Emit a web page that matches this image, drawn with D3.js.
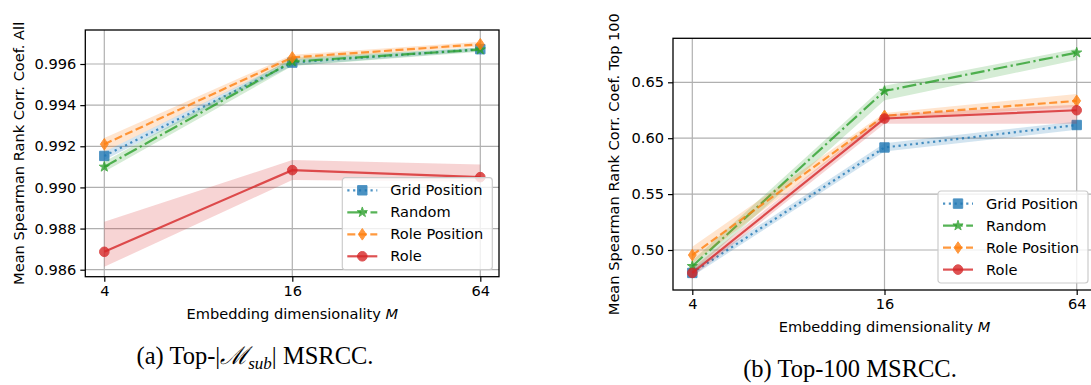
<!DOCTYPE html>
<html>
<head>
<meta charset="utf-8">
<script src="https://d3js.org/d3.v7.min.js"></script>
<style type="text/css">
  body { margin: 0; background: #fff; }
  svg text { font-family: "DejaVu Sans", sans-serif; fill: #000; }
  .caption { font-family: "Liberation Serif", "DejaVu Serif", serif; }
</style>
</head>
<body>
<svg id="fig" width="1091" height="385"></svg>
<script>

// embedding dimensionality M (x values, log2 axis)
const dims = [4, 16, 64];
const seriesNames = ['Grid Position', 'Random', 'Role Position', 'Role'];

// (a) Top-|M_sub| MSRCC : mean and shaded band (low / high)
const allGridMean = [0.99153, 0.99607, 0.99672];
const allGridLo   = [0.99133, 0.99592, 0.99663];
const allGridHi   = [0.99173, 0.99622, 0.99680];
const allRandomMean = [0.99100, 0.99612, 0.99670];
const allRandomLo   = [0.99076, 0.99590, 0.99660];
const allRandomHi   = [0.99125, 0.99630, 0.99680];
const allRolePosMean = [0.99210, 0.99632, 0.99696];
const allRolePosLo   = [0.99173, 0.99620, 0.99685];
const allRolePosHi   = [0.99240, 0.99645, 0.99708];
const allRoleMean = [0.98687, 0.99084, 0.99050];
const allRoleLo   = [0.98614, 0.99036, 0.99028];
const allRoleHi   = [0.98833, 0.99133, 0.99112];
const allTicks = [0.986, 0.988, 0.990, 0.992, 0.994, 0.996];

// (b) Top-100 MSRCC
const topGridMean = [0.4795, 0.5917, 0.6118];
const topGridLo   = [0.4765, 0.5880, 0.6075];
const topGridHi   = [0.4830, 0.5955, 0.6150];
const topRandomMean = [0.4855, 0.6422, 0.6765];
const topRandomLo   = [0.4800, 0.6340, 0.6700];
const topRandomHi   = [0.4905, 0.6470, 0.6800];
const topRolePosMean = [0.4955, 0.6200, 0.6334];
const topRolePosLo   = [0.4880, 0.6175, 0.6280];
const topRolePosHi   = [0.5030, 0.6225, 0.6395];
const topRoleMean = [0.4795, 0.6176, 0.6250];
const topRoleLo   = [0.4760, 0.6130, 0.6130];
const topRoleHi   = [0.4840, 0.6212, 0.6300];
const topTicks = [0.50, 0.55, 0.60, 0.65];

const colors = ['#1f77b4', '#2ca02c', '#ff7f0e', '#d62728'];
const dashes = ['2.2,3.6', '14,3.5,2.2,3.5', '8,3.5', null];
const markers = ['square', 'star', 'diamond', 'circle'];

const svg = d3.select('#fig');

function markerPath(kind) {
  if (kind === 'square') return d3.symbol(d3.symbolSquare, 88)();
  if (kind === 'star') return d3.symbol(d3.symbolStar, 32)();
  if (kind === 'circle') return d3.symbol(d3.symbolCircle, 72)();
  // thin diamond (matplotlib 'd')
  const p = d3.path();
  p.moveTo(0, -5.8); p.lineTo(3.9, 0); p.lineTo(0, 5.8); p.lineTo(-3.9, 0); p.closePath();
  return p.toString();
}

function drawPanel(cfg) {
  const x = d3.scaleLog().base(2).domain([4, 64]).range(cfg.xr);
  const y = d3.scaleLinear().domain(cfg.yd).range(cfg.yr);
  const [bl, br, bt, bb] = cfg.box;
  const g = svg.append('g');

  // grid
  g.append('g').selectAll('line').data(cfg.yticks).join('line')
    .attr('x1', bl).attr('x2', br)
    .attr('y1', d => y(d)).attr('y2', d => y(d))
    .attr('stroke', '#b0b0b0').attr('stroke-width', 1.2);
  g.append('g').selectAll('line').data(dims).join('line')
    .attr('x1', d => x(d)).attr('x2', d => x(d))
    .attr('y1', bt).attr('y2', bb)
    .attr('stroke', '#b0b0b0').attr('stroke-width', 1.2);

  const line = d3.line().x((d, i) => x(dims[i])).y(d => y(d));

  cfg.series.forEach((s, k) => {
    const area = d3.area()
      .x((d, i) => x(dims[i]))
      .y0((d, i) => y(s.lo[i]))
      .y1((d, i) => y(s.hi[i]));
    g.append('path').datum(s.mean)
      .attr('d', area)
      .attr('fill', colors[k]).attr('fill-opacity', 0.2);
    g.append('path').datum(s.mean)
      .attr('d', line)
      .attr('fill', 'none')
      .attr('stroke', colors[k]).attr('stroke-opacity', 0.8)
      .attr('stroke-width', 2.2)
      .attr('stroke-dasharray', dashes[k]);
    g.append('g').selectAll('path').data(s.mean).join('path')
      .attr('transform', (d, i) => `translate(${x(dims[i])},${y(d)})`)
      .attr('d', markerPath(markers[k]))
      .attr('fill', colors[k]).attr('stroke', colors[k]).attr('stroke-width', 1)
      .attr('opacity', 0.8);
  });

  // frame
  g.append('rect')
    .attr('x', bl).attr('y', bt).attr('width', br - bl).attr('height', bb - bt)
    .attr('fill', 'none').attr('stroke', '#000').attr('stroke-width', 1.3);

  // axes
  const ax = g.append('g').attr('transform', `translate(0,${bb})`)
    .call(d3.axisBottom(x).tickValues(dims).tickFormat(d3.format('d'))
      .tickSize(5).tickPadding(4));
  const ay = g.append('g').attr('transform', `translate(${bl},0)`)
    .call(d3.axisLeft(y).tickValues(cfg.yticks).tickFormat(d3.format(cfg.fmt))
      .tickSize(5).tickPadding(4));
  [ax, ay].forEach(a => {
    a.select('.domain').remove();
    a.selectAll('.tick line').attr('stroke', '#000').attr('stroke-width', 1.2);
    a.selectAll('.tick text').attr('font-family', 'DejaVu Sans').attr('font-size', 14.6);
  });

  // axis labels
  const xl = g.append('text')
    .attr('x', (cfg.xr[0] + cfg.xr[1]) / 2)
    .attr('y', bb + 42)
    .attr('text-anchor', 'middle')
    .attr('font-size', 14.6);
  xl.append('tspan').text('Embedding dimensionality ');
  xl.append('tspan').attr('font-style', 'italic').text('M');

  g.append('text')
    .attr('transform', `translate(${cfg.ylx},${(bt + bb) / 2}) rotate(-90)`)
    .attr('text-anchor', 'middle')
    .attr('dy', '0.35em')
    .attr('font-size', 14.6)
    .text(cfg.ylabel);

  // legend (lower right)
  const lw = 150, lh = 92;
  const lx = cfg.legendRight - lw, ly = bb - 7 - lh;
  const lg = g.append('g').attr('transform', `translate(${lx},${ly})`);
  lg.append('rect')
    .attr('width', lw).attr('height', lh).attr('rx', 3)
    .attr('fill', '#fff').attr('fill-opacity', 0.8)
    .attr('stroke', '#cccccc').attr('stroke-width', 1.2);
  seriesNames.forEach((name, k) => {
    const ry = 12.6 + k * 22;
    lg.append('line')
      .attr('x1', 5).attr('x2', 35).attr('y1', ry).attr('y2', ry)
      .attr('stroke', colors[k]).attr('stroke-opacity', 0.8)
      .attr('stroke-width', 2.2).attr('stroke-dasharray', dashes[k]);
    lg.append('path')
      .attr('transform', `translate(20,${ry})`)
      .attr('d', markerPath(markers[k]))
      .attr('fill', colors[k]).attr('stroke', colors[k]).attr('stroke-width', 1)
      .attr('opacity', 0.8);
    lg.append('text')
      .attr('x', 48).attr('y', ry).attr('dy', '0.35em')
      .attr('font-size', 14.6)
      .text(name);
  });
}

drawPanel({
  xr: [104.3, 480.3], yd: [0.986, 0.996], yr: [269.7, 64],
  box: [85.3, 499, 30, 276.7],
  yticks: allTicks, fmt: '.3f',
  ylabel: 'Mean Spearman Rank Corr. Coef. All', ylx: 19,
  legendRight: 492.3,
  series: [
    { mean: allGridMean, lo: allGridLo, hi: allGridHi },
    { mean: allRandomMean, lo: allRandomLo, hi: allRandomHi },
    { mean: allRolePosMean, lo: allRolePosLo, hi: allRolePosHi },
    { mean: allRoleMean, lo: allRoleLo, hi: allRoleHi },
  ],
});

drawPanel({
  xr: [692.3, 1076.7], yd: [0.50, 0.65], yr: [250, 82.3],
  box: [673, 1096, 38.3, 290],
  yticks: topTicks, fmt: '.2f',
  ylabel: 'Mean Spearman Rank Corr. Coef. Top 100', ylx: 614,
  legendRight: 1088,
  series: [
    { mean: topGridMean, lo: topGridLo, hi: topGridHi },
    { mean: topRandomMean, lo: topRandomLo, hi: topRandomHi },
    { mean: topRolePosMean, lo: topRolePosLo, hi: topRolePosHi },
    { mean: topRoleMean, lo: topRoleLo, hi: topRoleHi },
  ],
});

// sub-figure captions
const capA = svg.append('text').attr('class', 'caption')
  .attr('x', 255).attr('y', 364).attr('text-anchor', 'middle').attr('font-size', 24.5);
capA.append('tspan').text('(a) Top-|');
capA.append('tspan').attr('font-family', 'DejaVu Serif').attr('font-style', 'italic').text('\u2133');
capA.append('tspan').attr('font-style', 'italic').attr('font-size', 17).attr('dy', 5).text('sub');
capA.append('tspan').attr('dy', -5).text('| MSRCC.');

svg.append('text').attr('class', 'caption')
  .attr('x', 850).attr('y', 377).attr('text-anchor', 'middle').attr('font-size', 24.5)
  .text('(b) Top-100 MSRCC.');

</script>
</body>
</html>
